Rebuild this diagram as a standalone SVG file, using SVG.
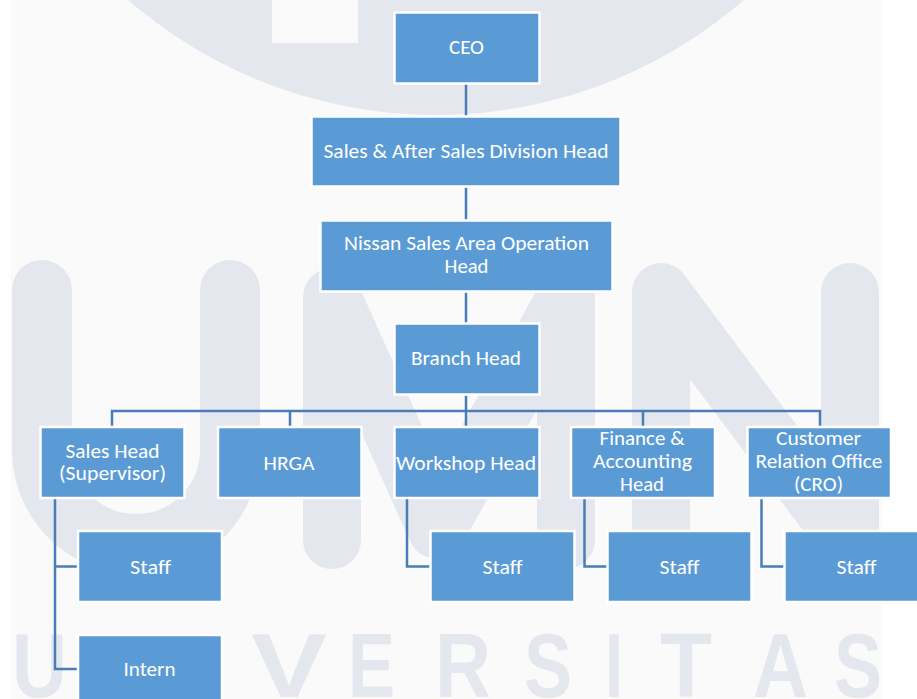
<svg xmlns="http://www.w3.org/2000/svg" width="917" height="699" viewBox="0 0 917 699">
  <style>
    .box { fill: #5b9bd5; stroke: #ffffff; stroke-width: 2.5; }
    .lbl { font-family: Carlito, Lato, "Liberation Sans", sans-serif; font-weight: 400; font-size: 20px; fill: #ffffff; text-anchor: middle; }
    .wm { fill: #e5e7ee; }
    .wms { fill: none; stroke: #e5e7ee; stroke-linecap: round; stroke-linejoin: round; }
    .wmt { font-family: "Liberation Sans", Arial, sans-serif; font-weight: bold; font-size: 90px; fill: #e5e7ee; }
    .link { fill: none; stroke: #4a7db6; stroke-width: 2.5; }
  </style>

  <!-- page background -->
  <rect x="0" y="0" width="917" height="699" fill="#ffffff"/>
  <rect x="11" y="0" width="871" height="699" fill="#fafafa"/>

  <!-- faint logo watermark -->
  <g id="watermark">
    <circle class="wm" cx="436" cy="-355" r="470"/>
    <rect x="272" y="0" width="86" height="43" fill="#fafafa"/>
    <path class="wms" stroke-width="60" d="M42,290 V450 A94,94 0 0 0 230,450 V290"/>
    <polyline class="wms" stroke-width="58" points="332,540 332,297 437,530 566,297 566,540"/>
    <polyline class="wms" stroke-width="58" points="661,545 661,292 850,545 850,292"/>
    <text class="wmt" x="12" y="697" textLength="55" lengthAdjust="spacingAndGlyphs">U</text>
    <text class="wmt" x="251" y="697" textLength="76" lengthAdjust="spacingAndGlyphs">V</text>
    <text class="wmt" x="348" y="697" textLength="47" lengthAdjust="spacingAndGlyphs">E</text>
    <text class="wmt" x="435" y="697" textLength="56" lengthAdjust="spacingAndGlyphs">R</text>
    <text class="wmt" x="524" y="697" textLength="48" lengthAdjust="spacingAndGlyphs">S</text>
    <text class="wmt" x="605" y="697" textLength="18" lengthAdjust="spacingAndGlyphs">I</text>
    <text class="wmt" x="660" y="697" textLength="52" lengthAdjust="spacingAndGlyphs">T</text>
    <text class="wmt" x="753" y="697" textLength="55" lengthAdjust="spacingAndGlyphs">A</text>
    <text class="wmt" x="834" y="697" textLength="48" lengthAdjust="spacingAndGlyphs">S</text>
  </g>

  <!-- reporting lines -->
  <g id="connectors">
    <path class="link" d="M466,84 V116"/>
    <path class="link" d="M466,187 V220"/>
    <path class="link" d="M466,292 V323"/>
    <path class="link" d="M466,394 V427"/>
    <path class="link" d="M112,427 V411 H820 V427"/>
    <path class="link" d="M290,411 V427"/>
    <path class="link" d="M643,411 V427"/>
    <path class="link" d="M55,498 V669 H78"/>
    <path class="link" d="M55,566.5 H78"/>
    <path class="link" d="M407,498 V566.5 H430"/>
    <path class="link" d="M584.5,498 V566.5 H607"/>
    <path class="link" d="M761.5,498 V566.5 H784"/>
  </g>

  <g id="ceo">
    <rect class="box" x="394.5" y="12.5" width="145" height="71"/>
    <text class="lbl" x="466.5" y="54" textLength="35" lengthAdjust="spacingAndGlyphs">CEO</text>
  </g>
  <g id="division-head">
    <rect class="box" x="311.5" y="116.5" width="309" height="70"/>
    <text class="lbl" x="466" y="157.5" textLength="285" lengthAdjust="spacingAndGlyphs">Sales &amp; After Sales Division Head</text>
  </g>
  <g id="area-operation-head">
    <rect class="box" x="320.5" y="220.5" width="292" height="71"/>
    <text class="lbl" x="466.5" y="250" textLength="245" lengthAdjust="spacingAndGlyphs">Nissan Sales Area Operation</text>
    <text class="lbl" x="466.5" y="272.5" textLength="44" lengthAdjust="spacingAndGlyphs">Head</text>
  </g>
  <g id="branch-head">
    <rect class="box" x="394.5" y="323.5" width="145" height="71"/>
    <text class="lbl" x="466" y="365" textLength="110" lengthAdjust="spacingAndGlyphs">Branch Head</text>
  </g>

  <g id="sales-head">
    <rect class="box" x="40.5" y="427" width="144" height="71"/>
    <text class="lbl" x="112.5" y="457.5" textLength="94" lengthAdjust="spacingAndGlyphs">Sales Head</text>
    <text class="lbl" x="112.5" y="480" textLength="107" lengthAdjust="spacingAndGlyphs">(Supervisor)</text>
  </g>
  <g id="hrga">
    <rect class="box" x="218" y="427" width="143.5" height="71"/>
    <text class="lbl" x="289" y="469.5" textLength="51" lengthAdjust="spacingAndGlyphs">HRGA</text>
  </g>
  <g id="workshop-head">
    <rect class="box" x="394.5" y="427" width="145" height="71"/>
    <text class="lbl" x="466" y="469.5" textLength="140" lengthAdjust="spacingAndGlyphs">Workshop Head</text>
  </g>
  <g id="finance-head">
    <rect class="box" x="571" y="427" width="144" height="71"/>
    <text class="lbl" x="642" y="445" textLength="85" lengthAdjust="spacingAndGlyphs">Finance &amp;</text>
    <text class="lbl" x="642.5" y="468" textLength="99" lengthAdjust="spacingAndGlyphs">Accounting</text>
    <text class="lbl" x="642" y="490.5" textLength="44" lengthAdjust="spacingAndGlyphs">Head</text>
  </g>
  <g id="cro">
    <rect class="box" x="747.5" y="427" width="143.5" height="71"/>
    <text class="lbl" x="818.5" y="445" textLength="85" lengthAdjust="spacingAndGlyphs">Customer</text>
    <text class="lbl" x="819" y="468" textLength="127" lengthAdjust="spacingAndGlyphs">Relation Office</text>
    <text class="lbl" x="818.5" y="490.5" textLength="49" lengthAdjust="spacingAndGlyphs">(CRO)</text>
  </g>

  <g id="sales-staff">
    <rect class="box" x="78" y="531" width="144" height="71"/>
    <text class="lbl" x="150.5" y="573.5" textLength="41" lengthAdjust="spacingAndGlyphs">Staff</text>
  </g>
  <g id="sales-intern">
    <rect class="box" x="78" y="635" width="144" height="71"/>
    <text class="lbl" x="149.5" y="676" textLength="52" lengthAdjust="spacingAndGlyphs">Intern</text>
  </g>
  <g id="workshop-staff">
    <rect class="box" x="430.5" y="531" width="144" height="71"/>
    <text class="lbl" x="502.5" y="573.5" textLength="40" lengthAdjust="spacingAndGlyphs">Staff</text>
  </g>
  <g id="finance-staff">
    <rect class="box" x="607.5" y="531" width="144" height="71"/>
    <text class="lbl" x="679.5" y="573.5" textLength="40" lengthAdjust="spacingAndGlyphs">Staff</text>
  </g>
  <g id="cro-staff">
    <rect class="box" x="784.5" y="531" width="144" height="71"/>
    <text class="lbl" x="856.5" y="573.5" textLength="40" lengthAdjust="spacingAndGlyphs">Staff</text>
  </g>
</svg>
